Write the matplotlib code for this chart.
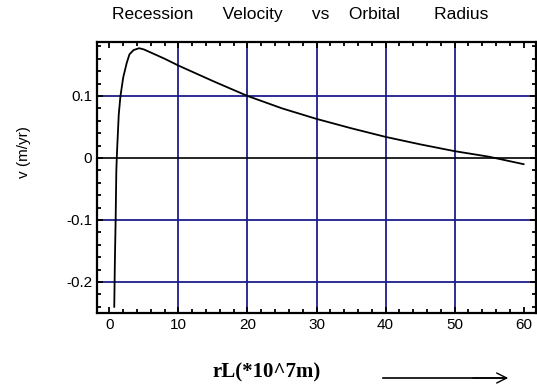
import numpy as np
from matplotlib import pyplot as plt
from matplotlib.ticker import MultipleLocator

# radius (x10^7 m) and recession velocity (m/yr)
radius = [0.7, 0.8, 0.9, 1.0, 1.1, 1.35, 1.6, 2.0, 2.5, 2.9, 3.5, 4.3, 5.0, 6.0,
          8.0, 10.0, 12.0, 15.0, 20.0, 25.0, 30.0, 35.0, 40.0, 45.0, 50.0, 55.0, 60.0]
velocity = [-0.24, -0.16, -0.10, -0.02, 0.01, 0.07, 0.10, 0.13, 0.153, 0.167, 0.174, 0.177,
            0.175, 0.17, 0.16, 0.149, 0.139, 0.124, 0.100, 0.080, 0.063, 0.048, 0.034,
            0.022, 0.011, 0.002, -0.010]

grid_x = [10, 20, 30, 40, 50]
grid_y = [-0.2, -0.1, 0.1]

plt.rcParams['font.family'] = ['Liberation Sans', 'DejaVu Sans']

fig = plt.figure(figsize=(5.37, 3.91), dpi=100)
ax = fig.add_axes([97 / 537, 1 - 313 / 391, (537 - 98) / 537, (313 - 42) / 391])

for gx in grid_x:
    ax.axvline(gx, color='#1c1c8c', lw=1.3, zorder=1)
for gy in grid_y:
    ax.axhline(gy, color='#1c1c8c', lw=1.3, zorder=1)
ax.axhline(0, color='black', lw=1.2, zorder=1)

ax.plot(radius, velocity, color='black', lw=1.3, zorder=3)

ax.set_xlim(-1.8, 61.8)
ax.set_ylim(-0.25, 0.187)
ax.set_xticks([0, 10, 20, 30, 40, 50, 60])
ax.set_yticks([-0.2, -0.1, 0, 0.1])
ax.set_yticklabels(['-0.2', '-0.1', '0', '0.1'])
ax.xaxis.set_minor_locator(MultipleLocator(2))
ax.yaxis.set_minor_locator(MultipleLocator(0.02))
ax.tick_params(which='both', direction='in', top=True, right=True, width=1.3, labelsize=11)
ax.tick_params(which='major', length=4)
ax.tick_params(which='minor', length=3)
for s in ax.spines.values():
    s.set_linewidth(1.6)

fig.text(300 / 537, 1 - 15 / 391, 'Recession      Velocity      vs    Orbital       Radius',
         ha='center', va='center', fontsize=12.5)
fig.text(0.045, 0.61, 'v (m/yr)', rotation=90, ha='center', va='center', fontsize=11)
fig.text(212 / 537, 1 - 372 / 391, 'rL(*10^7m)', ha='left', va='center',
         fontsize=15, fontweight='bold', family=['Liberation Serif', 'DejaVu Serif'])
fig.add_artist(plt.Line2D([383 / 537, 505 / 537], [1 - 378 / 391, 1 - 378 / 391],
                          color='black', lw=1.2))
ax.annotate('', xy=(511 / 537, 1 - 378 / 391), xytext=(470 / 537, 1 - 378 / 391),
            xycoords='figure fraction', textcoords='figure fraction',
            arrowprops=dict(arrowstyle='->', color='black', lw=1.0, mutation_scale=18))

fig.savefig('out.png', dpi=100)
plt.close()
